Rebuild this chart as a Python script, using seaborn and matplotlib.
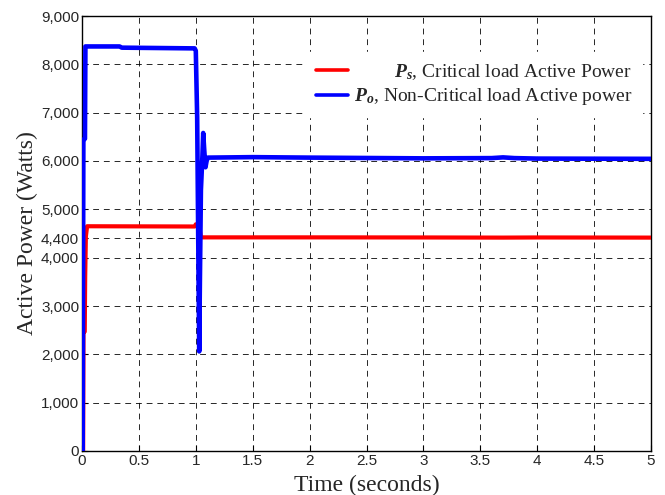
import matplotlib
matplotlib.use("Agg")
import matplotlib.pyplot as plt
import seaborn as sns
import pandas as pd
from matplotlib.lines import Line2D

# ---------------- data ----------------
ps_time = [0.000, 0.010, 0.013, 0.024, 0.028, 0.034, 0.045, 0.990, 1.000, 1.030,
           1.045, 2.000, 3.000, 3.700, 4.000, 5.000]
ps_power = [0, 0, 2470, 2470, 3600, 4440, 4650, 4645, 4690, 4650,
            4420, 4420, 4418, 4415, 4418, 4415]

po_time = [0.000, 0.006, 0.012, 0.026, 0.030, 0.330, 0.350, 0.990, 1.000, 1.012,
           1.022, 1.030, 1.036, 1.045, 1.058, 1.065, 1.075, 1.085, 1.095, 1.105,
           1.500, 2.000, 3.000, 3.600, 3.700, 3.800, 4.000, 5.000]
po_power = [0, 0, 6440, 6460, 8370, 8370, 8345, 8330, 8280, 6900,
            4200, 2060, 3500, 5400, 6100, 6580, 6200, 5870, 6000, 6070,
            6080, 6070, 6055, 6060, 6075, 6060, 6050, 6045]

x_ticks = [0, 0.5, 1, 1.5, 2, 2.5, 3, 3.5, 4, 4.5, 5]
x_tick_labels = ["0", "0.5", "1", "1.5", "2", "2.5", "3", "3.5", "4", "4.5", "5"]
y_ticks = [0, 1000, 2000, 3000, 4000, 4400, 5000, 6000, 7000, 8000, 9000]
y_tick_labels = ["0", "1,000", "2,000", "3,000", "4,000", "4,400", "5,000",
                 "6,000", "7,000", "8,000", "9,000"]

series_labels = [r"$\mathbf{P_s}$, Critical load Active Power",
                 r"$\mathbf{P_o}$, Non-Critical load Active power"]
series_colors = ["#ff0000", "#0000ff"]

# ---------------- style ----------------
sns.set_theme(style="white")
plt.rcParams["font.family"] = ["Liberation Serif", "DejaVu Serif"]
plt.rcParams["mathtext.fontset"] = "custom"
plt.rcParams["mathtext.rm"] = "Liberation Serif"
plt.rcParams["mathtext.it"] = "Liberation Serif:italic"
plt.rcParams["mathtext.bf"] = "Liberation Serif:bold:italic"

fig = plt.figure(figsize=(6.65, 4.95), dpi=100)
ax = fig.add_axes([82 / 665, 1 - 451 / 495, (651 - 82) / 665, (451 - 16) / 495])

df_s = pd.DataFrame({"t": ps_time, "p": ps_power})
df_o = pd.DataFrame({"t": po_time, "p": po_power})

sns.lineplot(data=df_s, x="t", y="p", ax=ax, color=series_colors[0], lw=3.0,
             estimator=None, sort=False, legend=False, zorder=3)
sns.lineplot(data=df_o, x="t", y="p", ax=ax, color=series_colors[1], lw=3.3,
             estimator=None, sort=False, legend=False, zorder=4)

ax.set_xlim(0, 5)
ax.set_ylim(0, 9000)
ax.set_xticks(x_ticks)
ax.set_xticklabels(x_tick_labels, family=["Liberation Sans"], fontsize=11)
ax.set_yticks(y_ticks)
ax.set_yticklabels(y_tick_labels, family=["Liberation Sans"], fontsize=11)
ax.tick_params(direction="in", length=4, width=0.8, color="black", pad=2,
               bottom=True, left=True)

ax.grid(True, color="black", linestyle=(0, (6, 5)), linewidth=0.7, alpha=0.85)
ax.set_axisbelow(True)
for s in ax.spines.values():
    s.set_visible(True)
    s.set_color("black")
    s.set_linewidth(1.0)

ax.set_xlabel("Time (seconds)", fontsize=17, labelpad=5)
ax.set_ylabel("Active Power (Watts)", fontsize=17, labelpad=2)

handles = [Line2D([0], [0], color=c, lw=2.6) for c in series_colors]
leg = ax.legend(handles, series_labels, loc="upper right",
                bbox_to_anchor=((642 - 82) / 569, (451 - 52) / 435),
                frameon=True, facecolor="white", edgecolor="white",
                framealpha=1.0, fancybox=False,
                fontsize=14, handlelength=1.65,
                handletextpad=0.3, labelspacing=0.25, borderpad=0.5,
                borderaxespad=0)
leg.set_zorder(10)

# right-align the legend texts (as in the original)
fig.canvas.draw()
renderer = fig.canvas.get_renderer()
texts = leg.get_texts()
widths = [t.get_window_extent(renderer).width for t in texts]
wmax = max(widths)
for t, w in zip(texts, widths):
    t.set_x(wmax - w)

fig.savefig("out.png", dpi=100)
